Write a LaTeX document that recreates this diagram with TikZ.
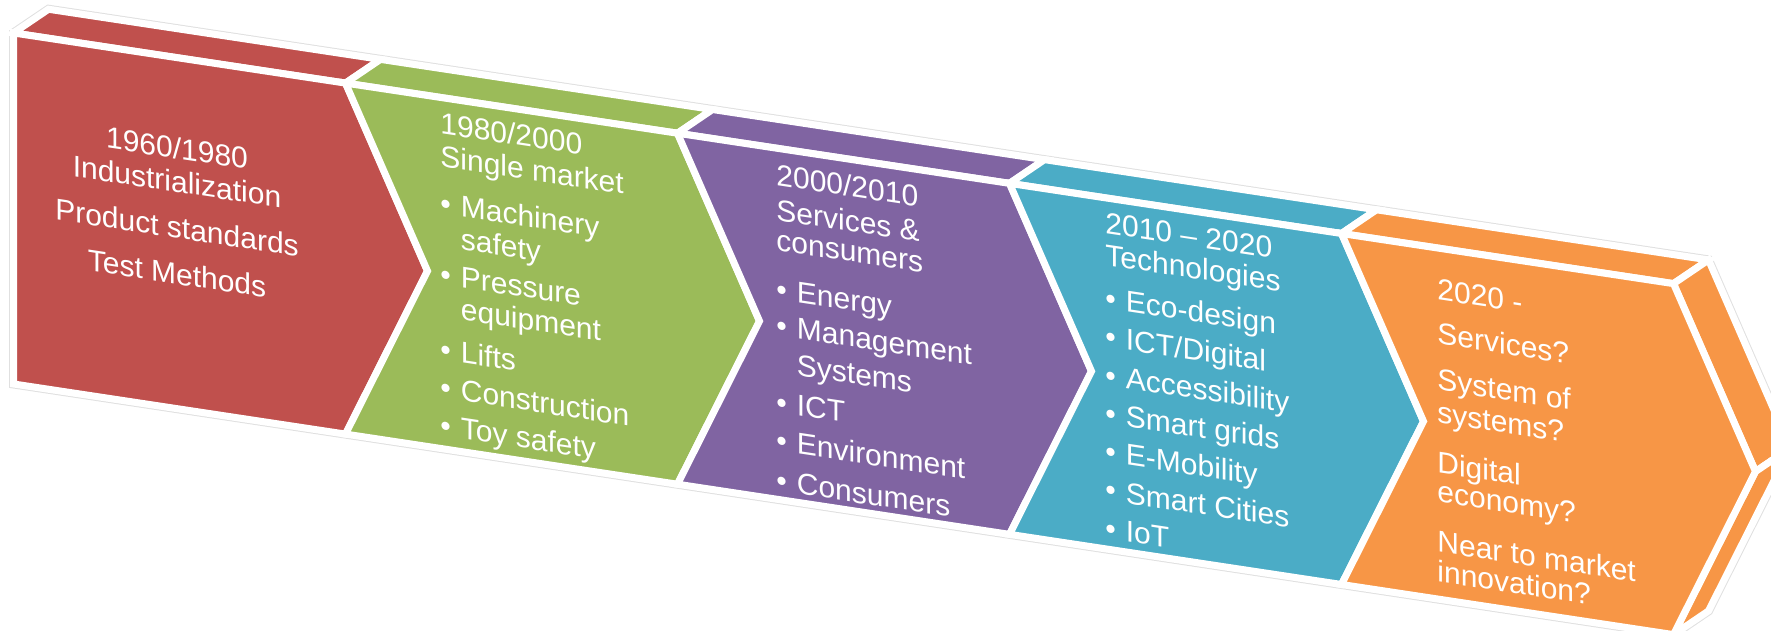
\documentclass[tikz,border=0pt]{standalone}
\usepackage{fontspec}
\setmainfont{Liberation Sans}
\usepackage{xcolor}

\definecolor{stRed}{HTML}{C0504D}
\definecolor{stGreen}{HTML}{9BBB59}
\definecolor{stPurple}{HTML}{8064A2}
\definecolor{stCyan}{HTML}{4BACC6}
\definecolor{stOrange}{HTML}{F79646}

\newcommand{\bul}{\textbullet\hspace{5pt}}
\newcommand{\bulc}{\hphantom{\textbullet\hspace{5pt}}}

\tikzset{
	stageface/.style={fill=#1, draw=white, line width=3.5pt},
	halo/.style={draw=black!12, line width=4.5pt},
	stagetext/.style={text=white, inner sep=0pt, transform shape, align=left, anchor=north west,
		font=\fontsize{15pt}{16pt}\selectfont}
}

\begin{document}
\begin{tikzpicture}[x=0.5pt,y=0.5pt]
	\useasboundingbox (0,0) rectangle (1771,631);
	\clip (0,0) rectangle (1771,631);
	\begin{scope}[cm={1,-0.151,0,1,(8.5pt,297pt)}]
		% corners: a = top front, b = bottom front, c = top back, m = tips/notches
		\foreach \k in {0,...,5} {
			\coordinate (a\k) at (-3.5+332*\k, 3.5);
			\coordinate (b\k) at (-3.5+332*\k, -347.5);
			\coordinate (c\k) at (31.5+332*\k, 32.5);
			\coordinate (m\k) at (78.5+332*\k, -172);
		}
		\coordinate (n5) at (1773.5,-143);
		\coordinate (d5) at (1691.5,-318.5);
		
		\draw[halo] (b0) -- (a0) -- (c0) -- (c5) -- (n5) -- (d5) -- (b5) -- cycle;
		
		% top faces
		\draw[stageface=stRed] (a0) -- (a1) -- (c1) -- (c0) -- cycle;
		\draw[stageface=stGreen] (a1) -- (a2) -- (c2) -- (c1) -- cycle;
		\draw[stageface=stPurple] (a2) -- (a3) -- (c3) -- (c2) -- cycle;
		\draw[stageface=stCyan] (a3) -- (a4) -- (c4) -- (c3) -- cycle;
		\draw[stageface=stOrange] (a4) -- (a5) -- (c5) -- (c4) -- cycle;
		% side faces of the last one
		\draw[stageface=stOrange] (a5) -- (m5) -- (n5) -- (c5) -- cycle;
		\draw[stageface=stOrange] (m5) -- (b5) -- (d5) -- (n5) -- cycle;
		
		% front faces
		\draw[stageface=stRed] (a0) -- (a1) -- (m1) -- (b1) -- (b0) -- cycle;
		\draw[stageface=stGreen] (a1) -- (a2) -- (m2) -- (b2) -- (b1) -- (m1) -- cycle;
		\draw[stageface=stPurple] (a2) -- (a3) -- (m3) -- (b3) -- (b2) -- (m2) -- cycle;
		\draw[stageface=stCyan] (a3) -- (a4) -- (m4) -- (b4) -- (b3) -- (m3) -- cycle;
		\draw[stageface=stOrange] (a4) -- (a5) -- (m5) -- (b5) -- (b4) -- (m4) -- cycle;
		
		\node[stagetext, align=center, anchor=north, font=\fontsize{15pt}{16.75pt}\selectfont] (txt1) at (160,-75.4)
			{1960/1980\\Industrialization\\[6.25pt]Product standards\\[6.25pt]Test Methods};
		\node[stagetext, font=\fontsize{15pt}{16.5pt}\selectfont] (txt2) at (423,-10.5)
			{1980/2000\\Single market\\[7pt]\bul Machinery\\\bulc safety\\[2.5pt]\bul Pressure\\[-0.5pt]\bulc equipment\\[5pt]\bul Lifts\\[2.5pt]\bul Construction\\[2.5pt]\bul Toy safety};
		\node[stagetext] (txt3) at (759,-11.5)
			{2000/2010\\[1.5pt]Services \&\\[-1pt]consumers\\[8.35pt]\bul Energy\\[2.3pt]\bul Management\\[2.35pt]\bulc Systems\\[4pt]\bul ICT\\[3.15pt]\bul Environment\\[4pt]\bul Consumers};
		\node[stagetext] (txt4) at (1088,-10.5)
			{2010 -- 2020\\Technologies\\[5.65pt]\bul Eco-design\\[3.15pt]\bul ICT/Digital\\[3.15pt]\bul Accessibility\\[3.15pt]\bul Smart grids\\[3.15pt]\bul E-Mobility\\[3.15pt]\bul Smart Cities\\[3.15pt]\bul IoT};
		\node[stagetext] (txt5) at (1420,-27.1)
			{2020 -\\[6pt]Services?\\[7pt]System of\\[0.5pt]systems?\\[9pt]Digital\\[-1.5pt]economy?\\[9pt]Near to market\\[-1.15pt]innovation?};
	\end{scope}
\end{tikzpicture}
\end{document}
